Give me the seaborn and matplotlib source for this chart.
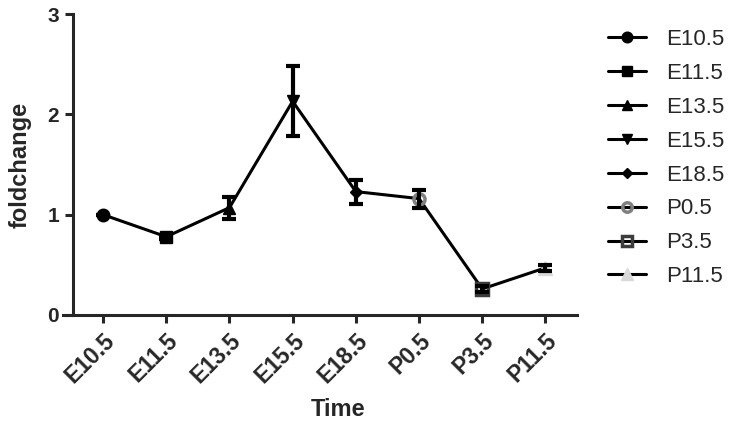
import numpy as np
import pandas as pd
import matplotlib
matplotlib.use("Agg")
import matplotlib.pyplot as plt
from matplotlib.lines import Line2D
import seaborn as sns

# Data (mean fold change +/- error per time point)
times = ["E10.5", "E11.5", "E13.5", "E15.5", "E18.5", "P0.5", "P3.5", "P11.5"]
foldchange = [1.00, 0.78, 1.07, 2.13, 1.23, 1.16, 0.26, 0.47]
err = [0.00, 0.02, 0.11, 0.35, 0.12, 0.09, 0.03, 0.03]

# marker style per time point (GraphPad-like)
MARKERS = ["o", "s", "^", "v", "D", "o", "s", "^"]
FACE = ["black"] * 5 + ["none", "none", "#d9d9d9"]
EDGE = ["black"] * 5 + ["#808080", "#3c3c3c", "#d9d9d9"]
MSIZE = [9, 9, 9, 9, 6, 8, 9, 10]
MEW = [1, 1, 1, 1, 1, 2.5, 2.5, 1]

df = pd.DataFrame({"Time": times, "foldchange": foldchange, "err": err})
df["pos"] = np.arange(len(df))

sns.set_style("ticks")
plt.rcParams["font.family"] = ["Liberation Sans", "DejaVu Sans"]

fig = plt.figure(figsize=(7.44, 4.25), dpi=100)
ax = fig.add_axes([63 / 744, 1 - 315 / 425, 514 / 744, 301 / 425])

# connecting line
sns.lineplot(data=df, x="pos", y="foldchange", color="black", linewidth=2.2,
             ax=ax, zorder=2)

# one marker per time point
for i, row in df.iterrows():
    ax.plot(row["pos"], row["foldchange"], linestyle="none", marker=MARKERS[i],
            markersize=MSIZE[i], markerfacecolor=FACE[i], markeredgecolor=EDGE[i],
            markeredgewidth=MEW[i], zorder=3)

# error bars on top
ax.errorbar(df["pos"], df["foldchange"], yerr=df["err"], fmt="none",
            ecolor="black", elinewidth=3, capsize=5, capthick=3, zorder=4)

# spines first (moving a spine resets the tick labels)
sns.despine(ax=ax)
ax.spines["left"].set_position(("data", -0.475))
ax.spines["left"].set_linewidth(2.2)
ax.spines["bottom"].set_linewidth(2.2)

# axes styling
ax.set_xlim(-0.634, 7.5)
ax.set_ylim(0, 3)
ax.set_yticks([0, 1, 2, 3])
ax.set_yticklabels(["0", "1", "2", "3"], fontweight="bold", fontsize=15)
ax.set_xticks(df["pos"])
ax.set_xticklabels(times, rotation=45, ha="right", rotation_mode="anchor",
                   fontweight="bold", fontsize=16.5)
ax.tick_params(axis="both", width=2.2, length=6, direction="out", pad=4)

ax.set_xlabel("Time", fontsize=17, fontweight="bold")
ax.set_ylabel("foldchange", fontsize=17, fontweight="bold")
ax.xaxis.set_label_coords(0.535, -0.275)
ax.yaxis.set_label_coords(-0.062, 0.5)

# legend: one entry per time point, line through marker
handles = [
    Line2D([], [], color="black", linewidth=2.2, marker=MARKERS[i],
           markersize=MSIZE[i] * 0.85, markerfacecolor=FACE[i],
           markeredgecolor=EDGE[i], markeredgewidth=MEW[i])
    for i in range(len(times))
]
fig.legend(handles, times, loc="upper left", bbox_to_anchor=(608 / 744, 1 - 29 / 425),
           frameon=False, fontsize=16, handlelength=1.7, handletextpad=0.9,
           labelspacing=0.58, borderpad=0, borderaxespad=0)

fig.savefig("out.png", dpi=100)
